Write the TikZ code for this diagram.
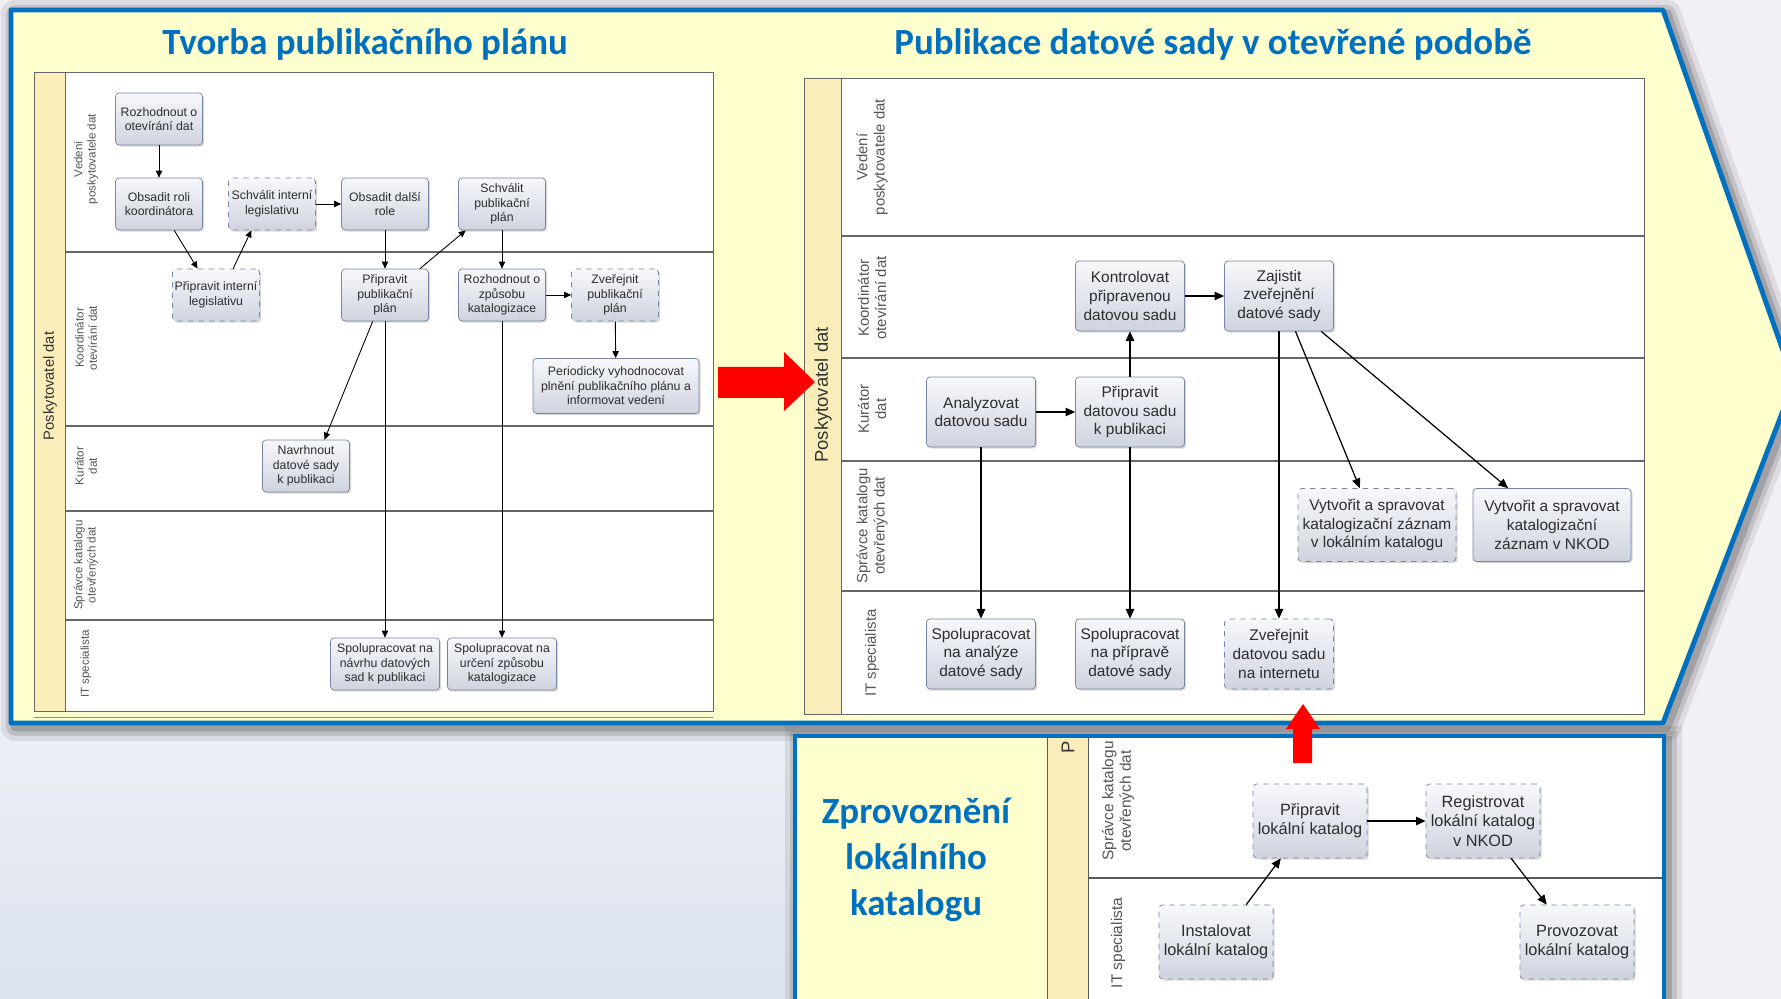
\documentclass[tikz,border=0pt]{standalone}
\usepackage{fontspec}
\setmainfont{Liberation Sans}
\newfontfamily\titlefont{Carlito}
\usepackage{tikz}
\usetikzlibrary{arrows.meta}
\usetikzlibrary{shadows}

\definecolor{panelblue}{RGB}{0,112,192}
\definecolor{panelfill}{RGB}{255,255,206}
\definecolor{poolfill}{RGB}{249,238,186}
\definecolor{boxtop}{RGB}{247,248,251}
\definecolor{boxbot}{RGB}{206,211,222}
\definecolor{boxline}{RGB}{118,132,165}
\definecolor{lanegray}{RGB}{85,85,85}
\definecolor{txtgray}{RGB}{45,45,45}
\definecolor{bglilac}{RGB}{243,239,246}
\definecolor{bgblue}{RGB}{220,227,238}

\tikzset{>={Triangle[length=5.5pt,width=4.8pt]},
  act/.style={draw=boxline, rounded corners=2pt, top color=boxtop, bottom color=boxbot,
    drop shadow={shadow xshift=0.9pt,shadow yshift=-0.9pt,opacity=0.3},
    text=txtgray, align=center, inner sep=1pt},
  actdash/.style={act, dashed},
  lbox/.style={font=\fontsize{7}{8.3}\selectfont, minimum width=1.74cm, minimum height=1.04cm},
  rbox/.style={font=\fontsize{8.8}{10.6}\selectfont, minimum width=2.18cm, minimum height=1.4cm},
  kbox/.style={font=\fontsize{9.3}{11}\selectfont, minimum width=2.28cm, minimum height=1.48cm},
  lanelbl/.style={rotate=90, align=center, text=lanegray},
  flow/.style={->, line width=0.7pt},
  flowsmall/.style={-{Triangle[length=4pt,width=3.6pt]}, line width=0.5pt},
  heading/.style={font=\titlefont\bfseries\fontsize{21}{26}\selectfont, text=panelblue, align=center}}

\begin{document}
\begin{tikzpicture}[x=0.02cm,y=-0.02cm]

  \useasboundingbox (0,0) rectangle (1781,999);
  \clip (0,0) rectangle (1781,999);

  % background
  \fill [bglilac] (0,0) rectangle (1781,999);
  \shade [top color=bgblue!55!white, bottom color=bgblue] (0,723) rectangle (795,999);

  % panel shadows
  \foreach \w/\o in {16pt/0.12, 10pt/0.18, 5pt/0.28} {
    \draw [black!70, line width=\w, opacity=\o, line join=round, shift={(4,4)}]
      (11,10) -- (1663,10) -- (1794,382) -- (1663,723) -- (11,723) -- cycle;
    \draw [black!70, line width=\w, opacity=\o, shift={(4,4)}]
      (795,1010) -- (795,736) -- (1664,736) -- (1664,1010);
  }

  % panels
  \draw [panelblue, fill=panelfill, line width=2.8pt, line join=round]
    (11,10) -- (1663,10) -- (1794,382) -- (1663,723) -- (11,723) -- cycle;

  \fill [panelfill] (795,736) rectangle (1047,1010);
  \fill [poolfill] (1047,736) rectangle (1088,1010);
  \fill [white] (1088,736) rectangle (1664,1010);
  \draw [black!65] (1047,736) -- (1047,999);
  \draw [black!65] (1088,736) -- (1088,999);
  \draw [black!65, line width=0.8pt] (1088,878) -- (1664,878);
  \draw [panelblue, line width=2.8pt] (795,1010) -- (795,736) -- (1664,736) -- (1664,1010);

  % titles
  \node [heading] (ttvorba) at (365,44) {Tvorba publikačního plánu};
  \node [heading] (tpubl) at (1213,44) {Publikace datové sady v otevřené podobě};
  \node [heading] (tzprov) at (916,860) {Zprovoznění\\lokálního\\katalogu};

  % left swimlanes
  \draw [black!60, fill=white] (34,72) rectangle (713,711);
  \fill [poolfill] (34,72) rectangle (65,711);
  \draw [black!60] (34,72) rectangle (713,711);
  \draw [black!60] (65,72) -- (65,711);
  \draw [black!45] (34,717) -- (713,717);
  \foreach \y in {252,426,511,620}
    \draw [black!60, line width=0.6pt] (65,\y) -- (713,\y);

  \node [lanelbl, text=black!80, font=\fontsize{8.4}{10}\selectfont] (lpool) at (50,386) {Poskytovatel dat};
  \node [lanelbl, font=\fontsize{6.6}{7.6}\selectfont] (lvedeni) at (86,159) {Vedení\\poskytovatele dat};
  \node [lanelbl, font=\fontsize{6.6}{7.6}\selectfont] (lkoord) at (86,338) {Koordinátor\\otevírání dat};
  \node [lanelbl, font=\fontsize{6.6}{7.6}\selectfont] (lkurator) at (86,466) {Kurátor\\dat};
  \node [lanelbl, font=\fontsize{6.6}{7.6}\selectfont] (lspravce) at (86,565) {Správce katalogu\\otevřených dat};
  \node [lanelbl, font=\fontsize{6.6}{7.6}\selectfont] (lit) at (86,664) {IT specialista};

  \node [act, lbox] (rozh) at (159,119) {Rozhodnout o\\otevírání dat};
  \node [act, lbox] (obsroli) at (159,204) {Obsadit roli\\koordinátora};
  \node [actdash, lbox] (schvint) at (272,204) {Schválit interní\\legislativu};
  \node [act, lbox] (obsdal) at (385,204) {Obsadit další\\role};
  \node [act, lbox] (schvplan) at (502,204) {Schválit\\publikační\\plán};
  \node [actdash, lbox] (pripint) at (216,295) {Připravit interní\\legislativu};
  \node [act, lbox] (pripplan) at (385,295) {Připravit\\publikační\\plán};
  \node [act, lbox] (rozhkat) at (502,295) {Rozhodnout o\\způsobu\\katalogizace};
  \node [actdash, lbox] (zverplan) at (615,295) {Zveřejnit\\publikační\\plán};
  \node [act, lbox, minimum width=3.32cm, minimum height=1.1cm] (period) at (616,386)
    {Periodicky vyhodnocovat\\plnění publikačního plánu a\\informovat vedení};
  \node [act, lbox] (navrh) at (306,466) {Navrhnout\\datové sady\\k publikaci};
  \node [act, lbox, minimum width=2.18cm] (spolnav) at (385,664) {Spolupracovat na\\návrhu datových\\sad k publikaci};
  \node [act, lbox, minimum width=2.18cm] (spolkat) at (502,664) {Spolupracovat na\\určení způsobu\\katalogizace};

  \draw [flowsmall] (rozh) -- (obsroli);
  \draw [flowsmall] (obsroli.-60) -- (pripint.125);
  \draw [flowsmall] (pripint.57) -- (schvint.-128);
  \draw [flowsmall] (schvint) -- (obsdal);
  \draw [flowsmall] (obsdal) -- (pripplan);
  \draw [flowsmall] (pripplan.37) -- (schvplan.-144);
  \draw [flowsmall] (schvplan) -- (rozhkat);
  \draw [flowsmall] (rozhkat) -- (zverplan);
  \draw [flowsmall] (zverplan) -- (period);
  \draw [flowsmall] (pripplan.-115) -- (navrh.55);
  \draw [flowsmall] (pripplan) -- (spolnav);
  \draw [flowsmall] (rozhkat) -- (spolkat);

  % right swimlanes
  \draw [black!60, fill=white] (804,78) rectangle (1644,714);
  \fill [poolfill] (804,78) rectangle (841,714);
  \draw [black!60] (804,78) rectangle (1644,714);
  \draw [black!60] (841,78) -- (841,714);
  \foreach \y in {236,358,461,591}
    \draw [black!60, line width=0.8pt] (841,\y) -- (1644,\y);

  \node [lanelbl, text=black!80, font=\fontsize{10.5}{12}\selectfont] (rpool) at (823,395) {Poskytovatel dat};
  \node [lanelbl, font=\fontsize{8.5}{9.8}\selectfont] (rvedeni) at (872,157) {Vedení\\poskytovatele dat};
  \node [lanelbl, font=\fontsize{8.5}{9.8}\selectfont] (rkoord) at (872,298) {Koordinátor\\otevírání dat};
  \node [lanelbl, font=\fontsize{8.5}{9.8}\selectfont] (rkurator) at (872,409) {Kurátor\\dat};
  \node [lanelbl, font=\fontsize{8.5}{9.8}\selectfont] (rspravce) at (872,526) {Správce katalogu\\otevřených dat};
  \node [lanelbl, font=\fontsize{8.5}{9.8}\selectfont] (rit) at (872,653) {IT specialista};

  \node [act, rbox] (kontrol) at (1130,296) {Kontrolovat\\připravenou\\datovou sadu};
  \node [act, rbox] (zajist) at (1279,296) {Zajistit\\zveřejnění\\datové sady};
  \node [act, rbox] (analyz) at (981,412) {Analyzovat\\datovou sadu};
  \node [act, rbox] (pripds) at (1130,412) {Připravit\\datovou sadu\\k publikaci};
  \node [actdash, rbox, minimum width=3.16cm, minimum height=1.46cm] (vytlok) at (1377,525)
    {Vytvořit a spravovat\\katalogizační záznam\\v lokálním katalogu};
  \node [act, rbox, minimum width=3.16cm, minimum height=1.46cm] (vytnkod) at (1552,525)
    {Vytvořit a spravovat\\katalogizační\\záznam v NKOD};
  \node [act, rbox] (spolan) at (981,654) {Spolupracovat\\na analýze\\datové sady};
  \node [act, rbox] (spolpr) at (1130,654) {Spolupracovat\\na přípravě\\datové sady};
  \node [actdash, rbox] (zverds) at (1279,654) {Zveřejnit\\datovou sadu\\na internetu};

  \draw [flow] (kontrol) -- (zajist);
  \draw [flow] (analyz) -- (pripds);
  \draw [flow] (pripds) -- (kontrol);
  \draw [flow] (analyz) -- (spolan);
  \draw [flow] (pripds) -- (spolpr);
  \draw [flow] (zajist) -- (zverds);
  \draw [flow] (zajist.-65) -- (vytlok.115);
  \draw [flow] (zajist.-40) -- (vytnkod.140);

  % bottom swimlanes
  \node [rotate=90, text=black!80, font=\fontsize{10.5}{12}\selectfont] (kpool) at (1068,747) {P};
  \node [lanelbl, font=\fontsize{8.8}{10}\selectfont] (kspravce) at (1118,801) {Správce katalogu\\otevřených dat};
  \node [lanelbl, font=\fontsize{8.8}{10}\selectfont] (kit) at (1118,943) {IT specialista};

  \node [actdash, kbox] (priplok) at (1310,821) {Připravit\\lokální katalog};
  \node [actdash, kbox] (registr) at (1483,821) {Registrovat\\lokální katalog\\v NKOD};
  \node [actdash, kbox] (instal) at (1216,942) {Instalovat\\lokální katalog};
  \node [actdash, kbox] (provoz) at (1577,942) {Provozovat\\lokální katalog};

  \draw [flow] (instal.51) -- (priplok.-128);
  \draw [flow] (priplok) -- (registr);
  \draw [flow] (registr.-53) -- (provoz.129);

  % red arrows
  \fill [red] (718,367) -- (784,367) -- (784,352) -- (815,382) -- (784,411) -- (784,398) -- (718,398) -- cycle;
  \fill [red] (1293,763) -- (1293,729) -- (1286,729) -- (1303,704) -- (1320,729) -- (1312,729) -- (1312,763) -- cycle;

\end{tikzpicture}
\end{document}
